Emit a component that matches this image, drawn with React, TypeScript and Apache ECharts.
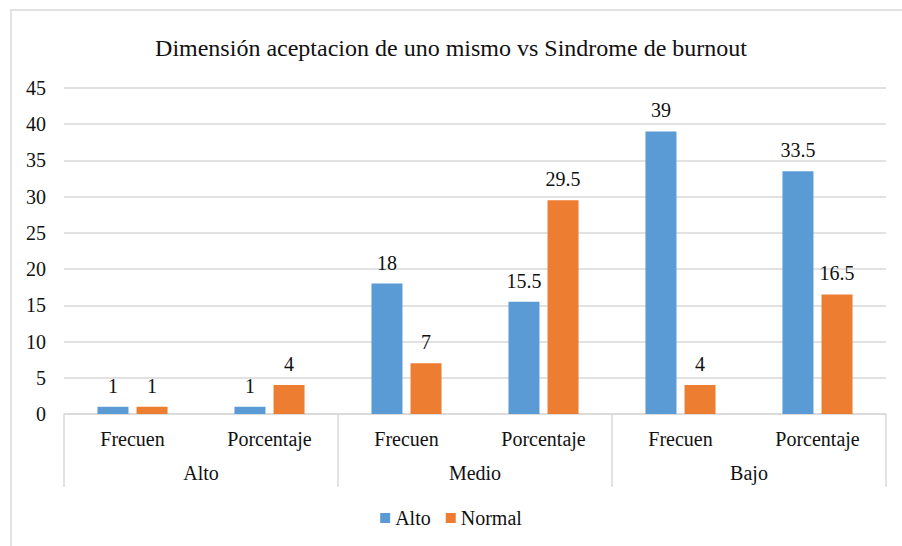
import React, { useEffect, useRef } from "react";
import * as echarts from "echarts";

const subCategories = ["Frecuen", "Porcentaje", "Frecuen", "Porcentaje", "Frecuen", "Porcentaje"];
const groupCategories = ["Alto", "Medio", "Bajo"];
const altoValues = [1, 1, 18, 15.5, 39, 33.5];
const normalValues = [1, 4, 7, 29.5, 4, 16.5];
const yTicks = { min: 0, max: 45, interval: 5 };

const FONT = "Liberation Serif";
const TXT = "#111111";

export default function App() {
  const ref = useRef<HTMLDivElement>(null);
  useEffect(() => {
    if (!ref.current) return;
    const chart = echarts.init(ref.current, null, { renderer: "svg" });
    const labelStyle = {
      show: true,
      position: "top" as const,
      distance: 11,
      fontFamily: FONT,
      fontSize: 20,
      color: TXT,
    };
    chart.setOption({
      animation: false,
      backgroundColor: "#ffffff",
      textStyle: { fontFamily: FONT },
      title: {
        text: "Dimensión aceptacion de uno mismo vs Sindrome de burnout",
        left: "center",
        top: 31,
        textStyle: { fontFamily: FONT, fontSize: 24, fontWeight: "normal", color: TXT },
      },
      graphic: [
        {
          type: "rect",
          shape: { x: 11, y: 10, width: 1000, height: 1000 },
          style: { fill: "none", stroke: "#d9d9d9", lineWidth: 1.5 },
          silent: true,
        },
      ],
      legend: {
        top: 503,
        left: "center",
        icon: "rect",
        itemWidth: 10,
        itemHeight: 10,
        itemGap: 15,
        textStyle: { fontFamily: FONT, fontSize: 20, color: TXT },
        data: ["Alto", "Normal"],
      },
      grid: { left: 64, right: 16, top: 88, bottom: 132 },
      xAxis: [
        {
          type: "category",
          data: subCategories,
          position: "bottom",
          axisLine: { show: true, lineStyle: { color: "#d9d9d9", width: 1.5 } },
          axisTick: { show: false },
          axisLabel: { interval: 0, margin: 15, fontFamily: FONT, fontSize: 20, color: TXT },
        },
        {
          type: "category",
          data: groupCategories,
          position: "bottom",
          axisLine: { show: false },
          axisTick: { show: true, length: 73, interval: 0, lineStyle: { color: "#d9d9d9", width: 1.5 } },
          axisLabel: { interval: 0, margin: 49, fontFamily: FONT, fontSize: 20, color: TXT },
        },
      ],
      yAxis: {
        type: "value",
        min: yTicks.min,
        max: yTicks.max,
        interval: yTicks.interval,
        axisLine: { show: false },
        axisTick: { show: false },
        axisLabel: { margin: 18, fontFamily: FONT, fontSize: 20, color: TXT },
        splitLine: { lineStyle: { color: "#d9d9d9", width: 1.5 } },
      },
      series: [
        {
          name: "Alto",
          type: "bar",
          xAxisIndex: 0,
          data: altoValues,
          barWidth: 31,
          barGap: "26%",
          itemStyle: { color: "#5B9BD5" },
          label: labelStyle,
        },
        {
          name: "Normal",
          type: "bar",
          xAxisIndex: 0,
          data: normalValues,
          barWidth: 31,
          barGap: "26%",
          itemStyle: { color: "#ED7D31" },
          label: labelStyle,
        },
      ],
    });
    return () => chart.dispose();
  }, []);
  return (
    <div
      ref={ref}
      style={{ position: "fixed", left: 0, top: 0, width: 902, height: 546 }}
    />
  );
}
